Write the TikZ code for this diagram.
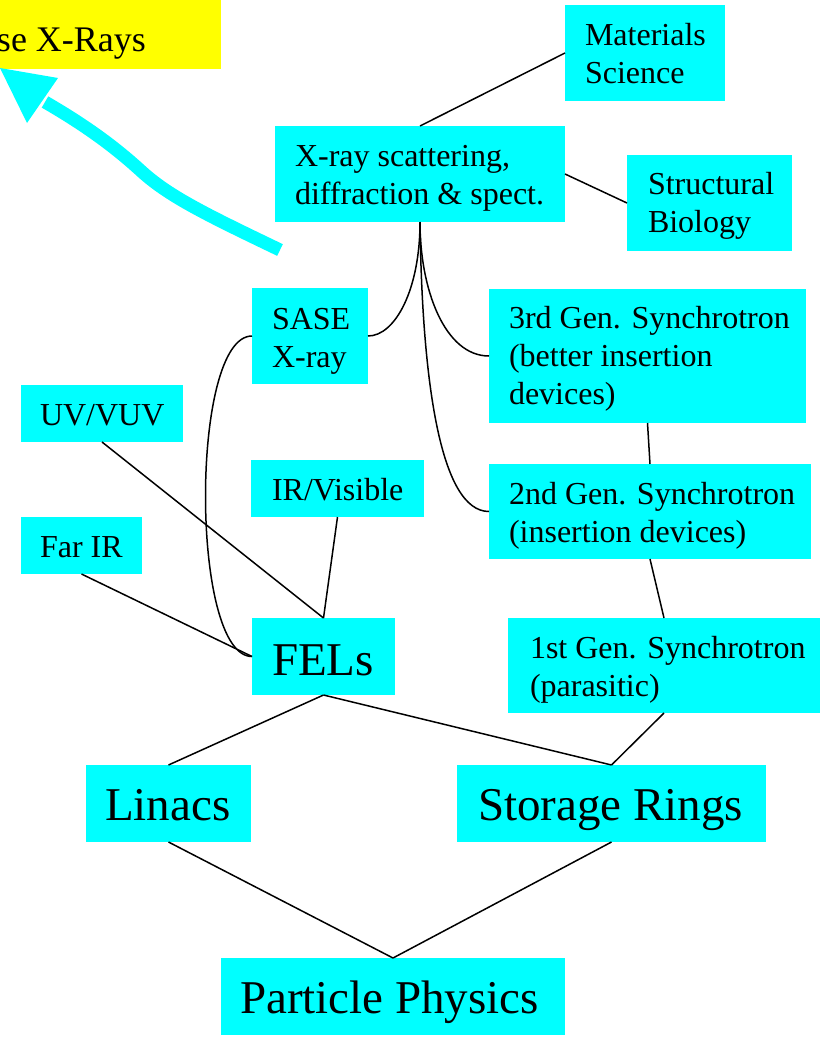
\documentclass[tikz,border=0pt]{standalone}
\usepackage{fontspec}
\setmainfont{Liberation Serif}
\definecolor{aqua}{HTML}{00FFFF}
\definecolor{yel}{HTML}{FFFF00}
\newcommand{\mlines}[1]{\begin{tabular}[t]{@{}l@{}}#1\end{tabular}}
\begin{document}
\begin{tikzpicture}[x=1pt,y=-1pt,
  box/.style={fill=aqua, draw=none, inner sep=0pt, outer sep=0pt, anchor=north west},
  goalbox/.style={box, fill=yel},
  txt/.style={anchor=base west, inner sep=0pt, outer sep=0pt},
  small/.style={txt, font=\fontsize{32}{38}\selectfont},
  big/.style={txt, font=\fontsize{47}{56}\selectfont},
  link/.style={draw=black, line width=1.5pt},
  bigarrow/.style={draw=aqua, line width=13pt}]
\useasboundingbox (0,0) rectangle (825,1042);
\clip (0,0) rectangle (825,1042);

% boxes
\node[goalbox, minimum width=231pt, minimum height=72pt] (goal) at (-10,-3) {};
\node[box, minimum width=160pt, minimum height=96pt] (mat) at (565,5) {};
\node[box, minimum width=290pt, minimum height=96pt] (xray) at (275,126) {};
\node[box, minimum width=165pt, minimum height=96pt] (struct) at (627,155) {};
\node[box, minimum width=116pt, minimum height=96pt] (sase) at (252,288) {};
\node[box, minimum width=317pt, minimum height=134pt] (gen3) at (489,289) {};
\node[box, minimum width=162pt, minimum height=57pt] (uv) at (21,385) {};
\node[box, minimum width=173pt, minimum height=57pt] (irvis) at (251,460) {};
\node[box, minimum width=322pt, minimum height=95pt] (gen2) at (489,464) {};
\node[box, minimum width=121pt, minimum height=57pt] (farir) at (21,517) {};
\node[box, minimum width=143pt, minimum height=77pt] (fel) at (252,618) {};
\node[box, minimum width=312pt, minimum height=95pt] (gen1) at (508,618) {};
\node[box, minimum width=165pt, minimum height=77pt] (linac) at (86,765) {};
\node[box, minimum width=309pt, minimum height=77pt] (ring) at (457,765) {};
\node[box, minimum width=344pt, minimum height=77pt] (pp) at (221,958) {};

% texts
\node[txt, font=\fontsize{36}{40}\selectfont] (goalt) at (-3,51) {se X-Rays};
\node[small] (matt) at (585,45) {\mlines{Materials\\Science}};
\node[small] (xrayt) at (295,166) {\mlines{X-ray scattering,\\diffraction \& spect.}};
\node[small] (structt) at (648,194) {\mlines{Structural\\Biology}};
\node[small] (saset) at (272,329) {\mlines{SASE\\X-ray}};
\node[small] (gen3t) at (509,328) {\mlines{3rd Gen. Synchrotron\\(better insertion\\devices)}};
\node[small] (uvt) at (40,425) {UV/VUV};
\node[small] (irvist) at (272,500) {IR/Visible};
\node[small] (gen2t) at (509,504) {\mlines{2nd Gen. Synchrotron\\(insertion devices)}};
\node[small] (farirt) at (40,557) {Far IR};
\node[big] (felt) at (272,675) {FELs};
\node[small] (gen1t) at (530,658) {\mlines{1st Gen. Synchrotron\\(parasitic)}};
\node[big] (linact) at (105,820) {Linacs};
\node[big] (ringt) at (478,820) {Storage Rings};
\node[big] (ppt) at (240,1013) {Particle Physics};

% connectors
\draw[link] (xray.north) -- (mat.west);
\draw[link] (xray.east) -- (struct.west);
\draw[link] (xray.south) .. controls +(0,68) and +(27,0) .. (sase.east);
\draw[link] (xray.south) .. controls +(0,68) and +(-44,0) .. (gen3.west);
\draw[link] (xray.south) .. controls +(2,158) and +(-49,0) .. (gen2.west);
\draw[link] (sase.west) .. controls +(-62,0) and +(-62,0) .. (fel.west);
\draw[link] (uv.south) -- (fel.north);
\draw[link] (irvis.south) -- (fel.north);
\draw[link] (farir.south) -- (fel.west);
\draw[link] (gen3.south) -- (gen2.north);
\draw[link] (gen2.south) -- (gen1.north);
\draw[link] (gen1.south) -- (ring.north);
\draw[link] (fel.south) -- (linac.north);
\draw[link] (fel.south) -- (ring.north);
\draw[link] (linac.south) -- (pp.north);
\draw[link] (ring.south) -- (pp.north);

% big cyan arrow
\draw[bigarrow] (280,250) .. controls (205,214) and (168,196) .. (140,170)
  .. controls (118,150) and (90,128) .. (45,102);
\fill[aqua] (0,68) -- (58,78) -- (27,123) -- cycle;
\end{tikzpicture}
\end{document}
